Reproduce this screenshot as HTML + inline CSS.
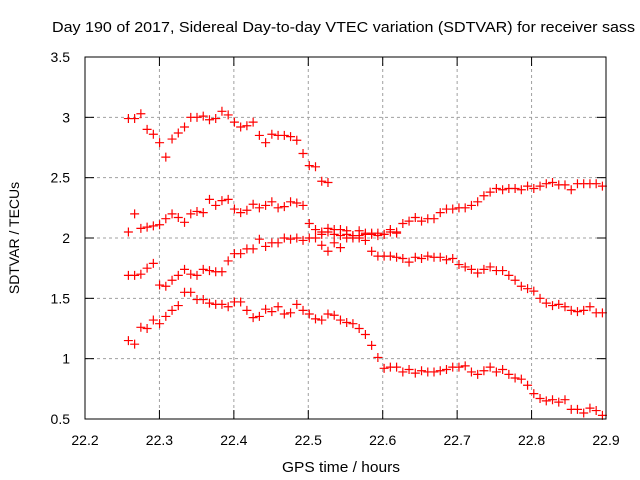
<!DOCTYPE html>
<html><head><meta charset="utf-8"><style>
body{margin:0;background:#fff}
svg{display:block;font-family:"Liberation Sans",sans-serif}
</style></head><body>
<svg id="chart" width="640" height="480" viewBox="0 0 640 480">
<text x="52" y="32" font-size="15" textLength="583" lengthAdjust="spacingAndGlyphs" fill="#000">Day 190 of 2017, Sidereal Day-to-day VTEC variation (SDTVAR) for receiver sass</text>
<text transform="translate(19,238) rotate(-90)" text-anchor="middle" font-size="14">SDTVAR / TECUs</text>
<text x="341" y="472" text-anchor="middle" font-size="15" textLength="118" lengthAdjust="spacingAndGlyphs">GPS time / hours</text>
<g id="grid"></g><g id="marks"></g>
<rect x="85" y="57" width="521" height="362" fill="none" stroke="#000" stroke-width="1"/>
</svg>
<script>
const xTicks=[22.2,22.3,22.4,22.5,22.6,22.7,22.8,22.9];
const yTicks=[0.5,1,1.5,2,2.5,3,3.5];
const t0=22.2583, dt=0.00838;
const s1=[2.99,2.99,3.03,2.90,2.86,2.79,2.67,2.82,2.87,2.92,3.00,3.00,3.01,2.98,2.99,3.05,3.02,2.96,2.92,2.93,2.96,2.85,2.79,2.86,2.85,2.85,2.84,2.81,2.70,2.60,2.59,2.47,2.46];
const s2=[2.05,2.20,2.08,2.09,2.10,2.11,2.16,2.20,2.17,2.13,2.20,2.22,2.21,2.32,2.27,2.31,2.32,2.24,2.21,2.23,2.28,2.25,2.27,2.30,2.25,2.26,2.30,2.29,2.27,2.12,2.07,1.94,1.89,1.96,1.92,2.00,2.00,2.00,1.98,1.89,1.85,1.85,1.85,1.84,1.83,1.80,1.84,1.83,1.85,1.84,1.84,1.82,1.83,1.78,1.76,1.74,1.71,1.74,1.76,1.73,1.73,1.69,1.65,1.60,1.58,1.56,1.50,1.46,1.44,1.45,1.43,1.40,1.39,1.40,1.43,1.38,1.38];
const s3=[1.69,1.69,1.70,1.75,1.79,1.61,1.60,1.65,1.69,1.74,1.70,1.69,1.74,1.73,1.72,1.72,1.81,1.87,1.87,1.91,1.91,1.99,1.93,1.96,1.96,2.00,1.99,2.00,1.98,2.00,2.00,2.03,2.05,2.03,2.02,2.03,2.02,2.02,2.03,2.03,2.04,2.03,2.05,2.04];
const s4=[1.15,1.12,1.26,1.25,1.32,1.29,1.35,1.40,1.44,1.55,1.55,1.49,1.49,1.46,1.45,1.45,1.43,1.47,1.47,1.40,1.34,1.35,1.41,1.39,1.43,1.37,1.38,1.45,1.40,1.37,1.33,1.32,1.37,1.36,1.32,1.30,1.29,1.25,1.20,1.11,1.01,0.92,0.93,0.93,0.89,0.91,0.88,0.90,0.89,0.89,0.90,0.91,0.93,0.93,0.94,0.89,0.87,0.90,0.93,0.89,0.91,0.87,0.84,0.83,0.78,0.71,0.67,0.65,0.66,0.64,0.66,0.58,0.58,0.55,0.59,0.57,0.53];
const s5Start=31;
const s5=[2.05,2.08,2.07,2.07,2.06,2.02,2.06,2.04,2.04,2.02,2.03,2.07,2.05,2.12,2.14,2.17,2.14,2.16,2.16,2.21,2.24,2.24,2.25,2.25,2.27,2.30,2.35,2.38,2.41,2.40,2.41,2.41,2.40,2.43,2.41,2.43,2.45,2.46,2.44,2.44,2.40,2.45,2.45,2.45,2.45,2.43];
const NS="http://www.w3.org/2000/svg";
const X=v=>85+(v-22.2)/0.7*521;
const Y=v=>419-(v-0.5)/3*362;
const grid=document.getElementById('grid'), marks=document.getElementById('marks');
function mk(tag,attrs,parent){const e=document.createElementNS(NS,tag);for(const k in attrs)e.setAttribute(k,attrs[k]);parent.appendChild(e);return e;}
xTicks.forEach(v=>{
  const x=X(v);
  if(v>22.2&&v<22.9){const l=mk('line',{x1:x,x2:x,y1:57,y2:419,stroke:'#a0a0a0','stroke-dasharray':'3,3'},grid);
  
  }
  const a=mk('line',{x1:x,x2:x,y1:419,y2:410,stroke:'#000'},grid);
  
  
  const b=mk('line',{x1:x,x2:x,y1:57,y2:66,stroke:'#000'},grid);
  
  
  const t=mk('text',{x:x,y:445,'text-anchor':'middle','font-size':14},grid);t.textContent=v.toFixed(1);
  
  
});
yTicks.forEach(v=>{
  const y=Y(v);
  if(v>0.5&&v<3.5){const l=mk('line',{x1:85,x2:606,y1:y,y2:y,stroke:'#a0a0a0','stroke-dasharray':'3,3'},grid);
  
  }
  const a=mk('line',{x1:85,x2:94,y1:y,y2:y,stroke:'#000'},grid);
  
  
  const b=mk('line',{x1:597,x2:606,y1:y,y2:y,stroke:'#000'},grid);
  
  
  const t=mk('text',{x:70,y:y+5,'text-anchor':'end','font-size':14},grid);t.textContent=String(v);
  
  
});
function plot(arr,start,name){
  arr.forEach((v,i)=>{
    const x=X(t0+(start+i)*dt), y=Y(v);
    const p=mk('path',{d:`M${x-4.5},${y}H${x+4.5}M${x},${y-4.5}V${y+4.5}`,stroke:'#ff0000','stroke-width':1.2,fill:'none'},marks);
    
    
  });
}
plot(s1,0,'point-series-1');
plot(s2,0,'point-series-2');
plot(s3,0,'point-series-3');
plot(s4,0,'point-series-4');
plot(s5,s5Start,'point-series-5');
</script>
</body></html>
